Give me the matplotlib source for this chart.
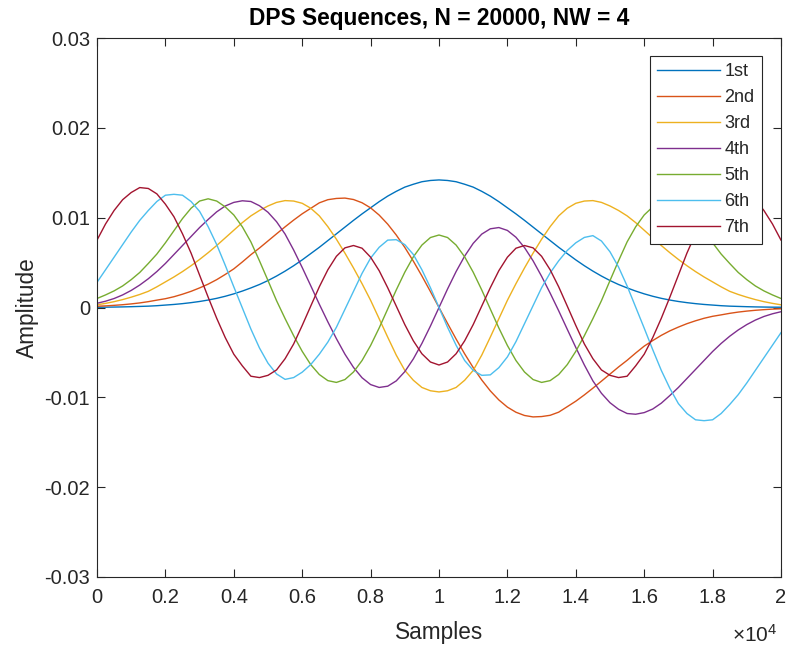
import matplotlib
matplotlib.use("Agg")
import matplotlib.pyplot as plt
import numpy as np

plt.rcParams['font.family'] = ['Liberation Sans', 'DejaVu Sans']
plt.rcParams['mathtext.fontset'] = 'custom'
plt.rcParams['mathtext.rm'] = 'Liberation Sans'

# sample positions (every 250 samples of N = 20000)
samples = np.linspace(0, 20000, 81)

# amplitudes, in units of 1e-3
dps1 = [0.03, 0.036, 0.05, 0.066, 0.09, 0.12, 0.15, 0.2, 0.27, 0.34, 0.43, 0.54, 0.67, 0.83, 1.02, 1.25, 1.52, 1.83, 2.18, 2.56,
        3.0, 3.5, 4.05, 4.65, 5.3, 6.0, 6.7, 7.45, 8.2, 8.95, 9.7, 10.42, 11.1, 11.78, 12.4, 12.93, 13.4, 13.72, 14.0, 14.14,
        14.2,
        14.14, 14.0, 13.72, 13.4, 12.93, 12.4, 11.78, 11.1, 10.42, 9.7, 8.95, 8.2, 7.45, 6.7, 6.0, 5.3, 4.65, 4.05, 3.5, 3.0,
        2.56, 2.18, 1.83, 1.52, 1.25, 1.02, 0.83, 0.67, 0.54, 0.43, 0.34, 0.27, 0.2, 0.15, 0.12, 0.09, 0.066, 0.05, 0.036, 0.03]
dps2 = [0.14, 0.18, 0.24, 0.31, 0.40, 0.51, 0.65, 0.82, 0.98, 1.2, 1.48, 1.8, 2.18, 2.6, 3.1, 3.68, 4.3, 5.07, 5.88, 6.62,
        7.41, 8.2, 8.98, 9.73, 10.43, 11.04, 11.65, 12.0, 12.14, 12.18, 12.02, 11.66, 11.09, 10.29, 9.28, 8.07, 6.69, 5.16, 3.51, 1.77,
        0.0,
        -1.77, -3.51, -5.16, -6.69, -8.07, -9.28, -10.29, -11.09, -11.66, -12.02, -12.18, -12.14, -12.0, -11.65, -11.04, -10.43, -9.73, -8.98, -8.2, -7.41,
        -6.62, -5.88, -5.07, -4.3, -3.68, -3.1, -2.6, -2.18, -1.8, -1.48, -1.2, -0.98, -0.82, -0.65, -0.51, -0.40, -0.31, -0.24, -0.18, -0.14]
dps3 = [0.3, 0.46, 0.65, 0.88, 1.15, 1.45, 1.8, 2.3, 2.85, 3.4, 4.0, 4.65, 5.35, 6.1, 6.9, 7.75, 8.6, 9.45, 10.2, 10.8,
        11.3, 11.7, 11.9, 11.85, 11.6, 11.05, 10.2, 9.0, 7.6, 6.05, 4.4, 2.65, 0.8, -1.25, -3.3, -5.3, -7.0, -8.1, -8.9, -9.27,
        -9.4,
        -9.27, -8.9, -8.1, -7.0, -5.3, -3.3, -1.25, 0.8, 2.65, 4.4, 6.05, 7.6, 9.0, 10.2, 11.05, 11.6, 11.85, 11.9, 11.7, 11.3,
        10.8, 10.2, 9.45, 8.6, 7.75, 6.9, 6.1, 5.35, 4.65, 4.0, 3.4, 2.85, 2.3, 1.8, 1.45, 1.15, 0.88, 0.65, 0.46, 0.3]
dps4 = [0.47, 0.7, 1.0, 1.4, 1.9, 2.5, 3.2, 4.0, 4.9, 5.9, 6.9, 7.9, 8.9, 9.8, 10.65, 11.3, 11.7, 11.88, 11.8, 11.33,
        10.6, 9.55, 8.17, 6.4, 4.45, 2.42, 0.37, -1.6, -3.47, -5.2, -6.67, -7.82, -8.58, -8.9, -8.76, -8.17, -7.14, -5.72, -4.0, -2.06,
        0.0,
        2.06, 4.0, 5.72, 7.14, 8.17, 8.76, 8.9, 8.58, 7.82, 6.67, 5.2, 3.47, 1.6, -0.37, -2.42, -4.45, -6.4, -8.17, -9.55, -10.6,
        -11.33, -11.8, -11.88, -11.7, -11.3, -10.65, -9.8, -8.9, -7.9, -6.9, -5.9, -4.9, -4.0, -3.2, -2.5, -1.9, -1.4, -1.0, -0.7, -0.47]
dps5 = [1.0, 1.4, 1.85, 2.4, 3.1, 3.9, 4.9, 5.95, 7.2, 8.55, 9.9, 11.05, 11.85, 12.1, 11.85, 11.2, 10.3, 8.98, 7.3, 5.2,
        3.0, 0.76, -1.24, -3.14, -4.88, -6.36, -7.46, -8.14, -8.34, -8.02, -7.18, -5.9, -4.23, -2.28, -0.17, 1.95, 3.93, 5.64, 6.95, 7.79,
        8.07,
        7.79, 6.95, 5.64, 3.93, 1.95, -0.17, -2.28, -4.23, -5.9, -7.18, -8.02, -8.34, -8.14, -7.46, -6.36, -4.88, -3.14, -1.24, 0.76, 3.0,
        5.2, 7.3, 8.98, 10.3, 11.2, 11.85, 12.1, 11.85, 11.05, 9.9, 8.55, 7.2, 5.95, 4.9, 3.9, 3.1, 2.4, 1.85, 1.4, 1.0]
dps6 = [2.8, 4.2, 5.6, 7.0, 8.4, 9.7, 10.8, 11.8, 12.5, 12.6, 12.5, 11.8, 10.7, 9.0, 7.0, 4.7, 2.3, -0.05, -2.4, -4.5,
        -6.2, -7.4, -8.0, -7.8, -7.2, -6.35, -5.2, -3.85, -2.2, -0.2, 1.8, 3.8, 5.5, 6.7, 7.5, 7.55, 7.0, 5.9, 4.2, 2.2,
        0.0,
        -2.2, -4.2, -5.9, -7.0, -7.55, -7.5, -6.7, -5.5, -3.8, -1.8, 0.2, 2.2, 3.85, 5.2, 6.35, 7.2, 7.8, 8.0, 7.4, 6.2,
        4.5, 2.4, 0.05, -2.3, -4.7, -7.0, -9.0, -10.7, -11.8, -12.5, -12.6, -12.5, -11.8, -10.8, -9.7, -8.4, -7.0, -5.6, -4.2, -2.8]
dps7 = [7.5, 9.3, 10.8, 12.0, 12.8, 13.35, 13.25, 12.65, 11.5, 10.1, 8.2, 6.06, 3.6, 1.15, -1.2, -3.35, -5.2, -6.5, -7.65, -7.8,
        -7.55, -6.95, -5.7, -4.06, -2.0, 0.16, 2.3, 4.2, 5.7, 6.64, 6.9, 6.6, 5.6, 4.1, 2.2, 0.16, -1.9, -3.71, -5.15, -6.07,
        -6.4,
        -6.07, -5.15, -3.71, -1.9, 0.16, 2.2, 4.1, 5.6, 6.6, 6.9, 6.64, 5.7, 4.2, 2.3, 0.16, -2.0, -4.06, -5.7, -6.95, -7.55,
        -7.8, -7.65, -6.5, -5.2, -3.35, -1.2, 1.15, 3.6, 6.06, 8.2, 10.1, 11.5, 12.65, 13.25, 13.35, 12.8, 12.0, 10.8, 9.3, 7.5]

labels = ['1st', '2nd', '3rd', '4th', '5th', '6th', '7th']
colors = ['#0072BD', '#D95319', '#EDB120', '#7E2F8E', '#77AC30', '#4DBEEE', '#A2142F']

dark = '#262626'

fig = plt.figure(figsize=(7.88, 6.49), dpi=100)
ax = fig.add_axes([97 / 788, 72 / 649, 684 / 788, 539 / 649])

for seq, lab, col in zip([dps1, dps2, dps3, dps4, dps5, dps6, dps7], labels, colors):
    ax.plot(samples, np.array(seq) * 1e-3, color=col, lw=1.0, label=lab)

ax.set_xlim(0, 20000)
ax.set_ylim(-0.03, 0.03)
ax.set_xticks(np.arange(0, 20001, 2000))
ax.set_xticklabels(['0', '0.2', '0.4', '0.6', '0.8', '1', '1.2', '1.4', '1.6', '1.8', '2'])
ax.set_yticks([-0.03, -0.02, -0.01, 0, 0.01, 0.02, 0.03])
ax.set_yticklabels(['-0.03', '-0.02', '-0.01', '0', '0.01', '0.02', '0.03'])
ax.tick_params(direction='in', top=True, right=True, length=5.5, width=0.8,
               colors=dark, labelsize=14.5)
ax.tick_params(axis='x', pad=8)
ax.tick_params(axis='y', pad=5)
for sp in ax.spines.values():
    sp.set_color(dark)
    sp.set_linewidth(0.8)

ax.set_xlabel('Samples', fontsize=16.3, color=dark, labelpad=10)
ax.set_ylabel('Amplitude', fontsize=16.3, color=dark, labelpad=4)
ax.set_title('DPS Sequences, N = 20000, NW = 4', fontsize=16.4, fontweight='bold', color='black', pad=9)
ax.text(0.995, -0.127, r'$\times\mathregular{10^{4}}$', transform=ax.transAxes, ha='right', va='bottom',
        fontsize=15, color=dark)

leg = ax.legend(loc='upper right', bbox_to_anchor=(0.972, 0.9666), borderaxespad=0,
                fontsize=13, handlelength=3.5, handletextpad=0.25, labelspacing=0.5,
                fancybox=False, framealpha=1, edgecolor=dark, borderpad=0.4)
leg.get_frame().set_linewidth(0.8)
for t in leg.get_texts():
    t.set_color(dark)

fig.savefig('out.png', dpi=100)
